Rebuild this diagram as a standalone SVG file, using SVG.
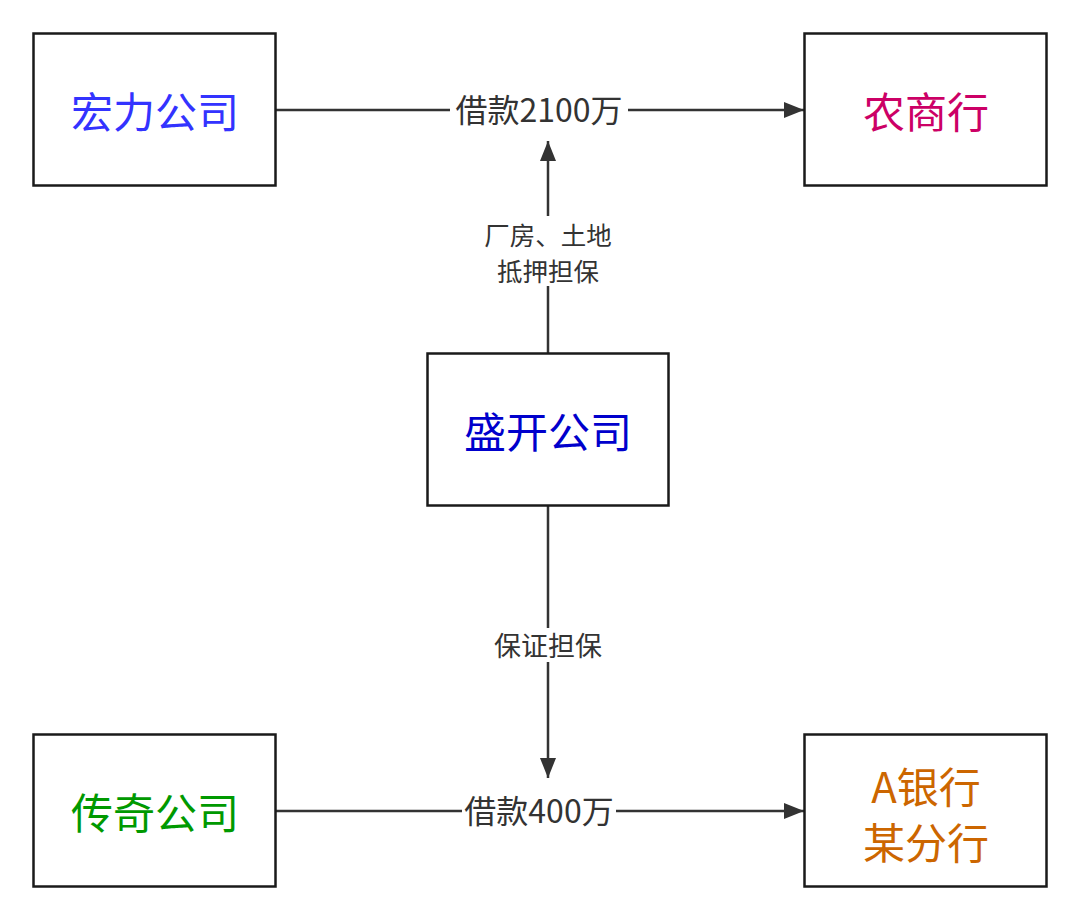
<svg xmlns="http://www.w3.org/2000/svg" width="1080" height="921" viewBox="0 0 1080 921">
<defs>
<style>
.box{fill:#ffffff;stroke:#1a1a1a;stroke-width:2.5}
.nt{font-family:"Noto Sans CJK SC","Noto Sans",sans-serif;font-size:42px;text-anchor:middle;dominant-baseline:central}
.edge{stroke:#333333;stroke-width:2.5;fill:none}
.lbl{font-family:"Noto Sans CJK SC","Noto Sans",sans-serif;fill:#333333;text-anchor:middle;dominant-baseline:central}
.lb{fill:#ffffff}
</style>
<marker id="arr" viewBox="0 0 20 16" refX="20" refY="8" markerWidth="20" markerHeight="16" markerUnits="userSpaceOnUse" orient="auto">
<path d="M0,0 L20,8 L0,16 Z" fill="#333333"/>
</marker>
</defs>
<rect width="1080" height="921" fill="#ffffff"/>
<g id="connectors">
<line class="edge" x1="276" y1="110" x2="804" y2="110" marker-end="url(#arr)"/>
<line class="edge" x1="548" y1="353" x2="548" y2="141" marker-end="url(#arr)"/>
<line class="edge" x1="548" y1="506" x2="548" y2="778" marker-end="url(#arr)"/>
<line class="edge" x1="276" y1="811" x2="804" y2="811" marker-end="url(#arr)"/>
<rect class="lb" x="450" y="92" width="178" height="36"/>
<text class="lbl" x="539" y="108" font-size="32">借款2100万</text>
<rect class="lb" x="476" y="216" width="144" height="70"/>
<text class="lbl" x="548" y="233" font-size="25.5">厂房、土地</text>
<text class="lbl" x="548" y="269" font-size="25.5">抵押担保</text>
<rect class="lb" x="490" y="628" width="116" height="34"/>
<text class="lbl" x="548" y="644" font-size="27">保证担保</text>
<rect class="lb" x="462" y="793" width="154" height="36"/>
<text class="lbl" x="539" y="809" font-size="32">借款400万</text>
</g>
<g id="hongli">
<rect class="box" x="33.5" y="33.5" width="242" height="152"/>
<text class="nt" x="155" y="109" fill="#3333ff">宏力公司</text>
</g>
<g id="nongshang">
<rect class="box" x="804.5" y="33.5" width="242" height="152"/>
<text class="nt" x="926" y="109" fill="#cc0066">农商行</text>
</g>
<g id="shengkai">
<rect class="box" x="427.5" y="353.5" width="241" height="152"/>
<text class="nt" x="548" y="429" fill="#0000cc">盛开公司</text>
</g>
<g id="chuanqi">
<rect class="box" x="33.5" y="734.5" width="242" height="152"/>
<text class="nt" x="155" y="810" fill="#009900">传奇公司</text>
</g>
<g id="abank">
<rect class="box" x="804.5" y="734.5" width="242" height="152"/>
<text class="nt" x="926" y="784" fill="#cc6600">A银行</text>
<text class="nt" x="926" y="840" fill="#cc6600">某分行</text>
</g>
</svg>
